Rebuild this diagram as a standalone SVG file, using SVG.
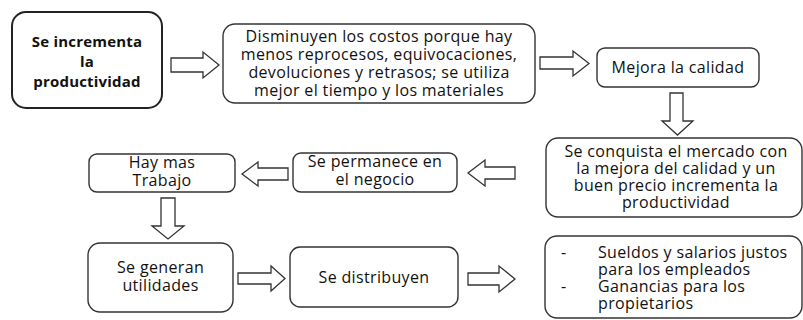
<svg xmlns="http://www.w3.org/2000/svg" width="803" height="320" viewBox="0 0 803 320">
<style>
.box{fill:#fff;stroke:#333;stroke-width:1.4}
.box1{fill:#fff;stroke:#222;stroke-width:2}
.arr{fill:#fff;stroke:#333;stroke-width:1.3;stroke-linejoin:miter}
text{font-family:"Open Sans","Noto Sans","DejaVu Sans",sans-serif;font-size:16px;letter-spacing:0.35px;fill:#111}
.c{text-anchor:middle}
.b{font-weight:bold;font-size:15px;letter-spacing:0.2px}
</style>
<rect width="803" height="320" fill="#fff"/>
<g id="connectors">
<polygon class="arr" points="171,58 203,58 203,52 219,65 203,78 203,72 171,72"/>
<polygon class="arr" points="540,57 573,57 573,51 589,63.5 573,76 573,69 540,69"/>
<polygon class="arr" points="670,93 683,93 683,121 693,121 677.5,135 662,121 670,121"/>
<polygon class="arr" points="515,167 485,167 485,160 468,173 485,186 485,179 515,179"/>
<polygon class="arr" points="288,168 258,168 258,162 242,174 258,186 258,180 288,180"/>
<polygon class="arr" points="161,198 175,198 175,226 184,226 168,239 152,226 161,226"/>
<polygon class="arr" points="238,273 271,273 271,266 285,278.5 271,291 271,284 238,284"/>
<polygon class="arr" points="468,273 499,273 499,266 515,279 499,292 499,285 468,285"/>
</g>
<g id="n1">
<rect class="box1" x="12" y="12" width="150" height="96" rx="14"/>
<text class="c b" x="87" y="47">Se incrementa</text>
<text class="c b" x="87" y="67">la</text>
<text class="c b" x="87" y="87">productividad</text>
</g>
<g id="n2">
<rect class="box" x="223" y="24" width="312" height="79" rx="12"/>
<text class="c" x="379" y="42">Disminuyen los costos porque hay</text>
<text class="c" x="379" y="60">menos reprocesos, equivocaciones,</text>
<text class="c" x="379" y="78">devoluciones y retrasos; se utiliza</text>
<text class="c" x="379" y="96">mejor el tiempo y los materiales</text>
</g>
<g id="n3">
<rect class="box" x="597" y="48" width="162" height="39" rx="8"/>
<text class="c" x="678" y="73">Mejora la calidad</text>
</g>
<g id="n4">
<rect class="box" x="546" y="138" width="256" height="79" rx="12"/>
<text class="c" x="676" y="157">Se conquista el mercado con</text>
<text class="c" x="676" y="174">la mejora del calidad y un</text>
<text class="c" x="676" y="191">buen precio incrementa la</text>
<text class="c" x="676" y="208">productividad</text>
</g>
<g id="n5">
<rect class="box" x="293" y="153" width="164" height="39" rx="8"/>
<text class="c" x="375" y="167">Se permanece en</text>
<text class="c" x="375" y="185">el negocio</text>
</g>
<g id="n6">
<rect class="box" x="89" y="154" width="146" height="38" rx="8"/>
<text class="c" x="162" y="168">Hay mas</text>
<text class="c" x="162" y="186">Trabajo</text>
</g>
<g id="n7">
<rect class="box" x="88" y="243" width="145" height="69" rx="12"/>
<text class="c" x="160.5" y="273">Se generan</text>
<text class="c" x="160.5" y="291">utilidades</text>
</g>
<g id="n8">
<rect class="box" x="290" y="247" width="168" height="60" rx="10"/>
<text class="c" x="374" y="283">Se distribuyen</text>
</g>
<g id="n9">
<rect class="box" x="545" y="236" width="257" height="82" rx="12"/>
<text x="561" y="258">-</text>
<text x="598" y="258">Sueldos y salarios justos</text>
<text x="598" y="275">para los empleados</text>
<text x="561" y="292">-</text>
<text x="598" y="292">Ganancias para los</text>
<text x="598" y="309">propietarios</text>
</g>
</svg>
